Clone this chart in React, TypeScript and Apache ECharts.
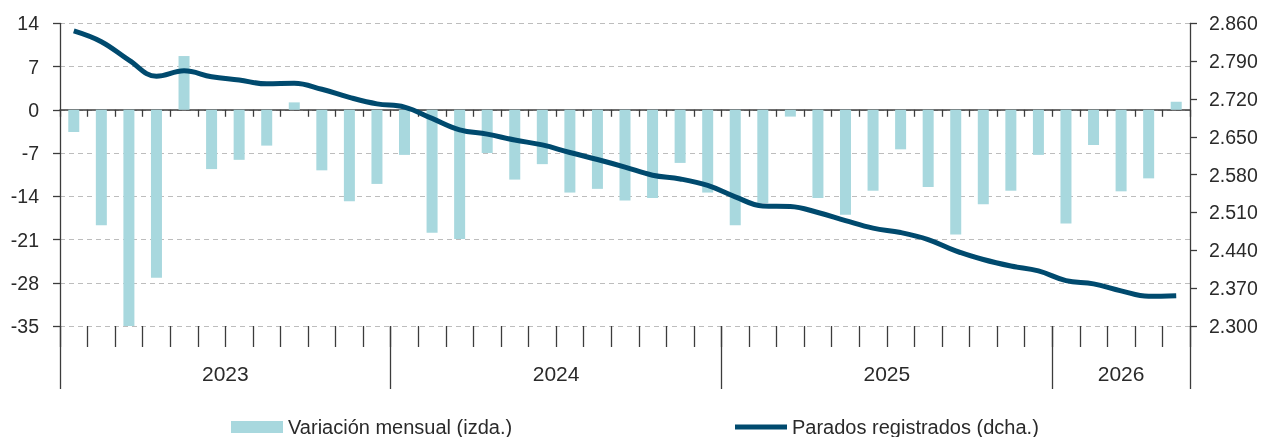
import React, { useEffect, useRef } from "react";
import * as echarts from "echarts";

const months = [
  "ene 2023", "feb 2023", "mar 2023", "abr 2023", "may 2023", "jun 2023",
  "jul 2023", "ago 2023", "sep 2023", "oct 2023", "nov 2023", "dic 2023",
  "ene 2024", "feb 2024", "mar 2024", "abr 2024", "may 2024", "jun 2024",
  "jul 2024", "ago 2024", "sep 2024", "oct 2024", "nov 2024", "dic 2024",
  "ene 2025", "feb 2025", "mar 2025", "abr 2025", "may 2025", "jun 2025",
  "jul 2025", "ago 2025", "sep 2025", "oct 2025", "nov 2025", "dic 2025",
  "ene 2026", "feb 2026", "mar 2026", "abr 2026", "may 2026",
];

const variacionMensual = [
  -3.6, -18.7, -35.0, -27.2, 8.7, -9.6, -8.1, -5.8, 1.2, -9.8, -14.8, -12.0,
  -7.3, -19.9, -20.9, -7.0, -11.3, -8.8, -13.4, -12.8, -14.7, -14.3, -8.6, -13.4,
  -18.7, -15.1, -1.1, -14.3, -17.0, -13.1, -6.4, -12.5, -20.2, -15.3, -13.1, -7.3,
  -18.4, -5.7, -13.2, -11.1, 1.3,
];

const paradosRegistrados = [
  2846, 2826, 2792, 2762, 2772, 2761, 2755, 2748, 2749, 2738, 2723, 2711,
  2705, 2684, 2663, 2655, 2644, 2635, 2621, 2608, 2594, 2579, 2572, 2560,
  2539, 2522, 2521, 2510, 2495, 2481, 2473, 2460, 2439, 2423, 2411, 2402,
  2384, 2378, 2365, 2355, 2356,
];

const yearLabels = ["2023", "2024", "2025", "2026"];
const yearCenters = [6, 18, 30, 38.5];
const yearBounds = [0, 12, 24, 36, 41];

const serieBarras = "Variación mensual (izda.)";
const serieLinea = "Parados registrados (dcha.)";

const FONT = "'Liberation Sans', Arial, Helvetica, sans-serif";
const TEXT = "#2a2a2a";
const AXIS = "#3c3c3c";
const BAR = "#a8d8de";
const LINE = "#004a6e";

function fmtMiles(v: number): string {
  const t = Math.floor(v / 1000);
  const r = Math.round(v - t * 1000);
  return `${t}.${String(r).padStart(3, "0")}`;
}

export default function App() {
  const ref = useRef<HTMLDivElement>(null);

  useEffect(() => {
    if (!ref.current) return;
    const chart = echarts.init(ref.current, null, { renderer: "svg" });
    chart.setOption({
      animation: false,
      textStyle: { fontFamily: FONT },
      grid: { left: 60, right: 75, top: 23.3, bottom: 111, containLabel: false },
      legend: [
        {
          data: [serieBarras],
          left: 231,
          top: 417,
          padding: 0,
          icon: "rect",
          itemWidth: 52,
          itemHeight: 12,
          textStyle: { fontSize: 20, color: TEXT, fontFamily: FONT },
        },
        {
          data: [serieLinea],
          left: 735,
          top: 417,
          padding: 0,
          icon: "rect",
          itemWidth: 52,
          itemHeight: 5,
          textStyle: { fontSize: 20, color: TEXT, fontFamily: FONT },
        },
      ],
      xAxis: [
        {
          type: "category",
          data: months,
          position: "bottom",
          axisLine: { show: true, onZero: true, lineStyle: { color: AXIS, width: 1.5 } },
          axisTick: { show: true, interval: 0, length: 7, lineStyle: { color: AXIS, width: 1.3 } },
          axisLabel: { show: false },
          splitLine: { show: false },
        },
        {
          type: "category",
          data: months,
          position: "bottom",
          axisLine: { show: false, onZero: false },
          axisTick: { show: true, interval: 0, length: 21, lineStyle: { color: AXIS, width: 1.3 } },
          axisLabel: { show: false },
          splitLine: { show: false },
        },
        {
          type: "value",
          min: 0,
          max: months.length,
          position: "bottom",
          axisLine: { show: false, onZero: false },
          splitLine: { show: false },
          axisTick: {
            show: true,
            customValues: yearBounds,
            length: 63,
            lineStyle: { color: AXIS, width: 1.3 },
          },
          axisLabel: {
            show: true,
            customValues: yearCenters,
            formatter: (v: number) => yearLabels[yearCenters.indexOf(v)] ?? "",
            margin: 37,
            fontSize: 21,
            color: TEXT,
            fontFamily: FONT,
          },
        },
      ],
      yAxis: [
        {
          type: "value",
          min: -35,
          max: 14,
          interval: 7,
          position: "left",
          axisLine: { show: true, onZero: false, lineStyle: { color: AXIS, width: 1.3 } },
          axisTick: { show: true, length: 7, lineStyle: { color: AXIS, width: 1.3 } },
          axisLabel: { margin: 21, fontSize: 19.5, color: TEXT, fontFamily: FONT },
          splitLine: { show: true, lineStyle: { type: [5, 4], color: "#bdbdbd", width: 1.2 } },
        },
        {
          type: "value",
          min: 2300,
          max: 2860,
          interval: 70,
          position: "right",
          axisLine: { show: true, onZero: false, lineStyle: { color: AXIS, width: 1.3 } },
          axisTick: { show: true, length: 7, lineStyle: { color: AXIS, width: 1.3 } },
          axisLabel: { margin: 19, fontSize: 19.5, color: TEXT, fontFamily: FONT, formatter: fmtMiles },
          splitLine: { show: false },
        },
      ],
      series: [
        {
          type: "bar",
          name: serieBarras,
          data: variacionMensual,
          xAxisIndex: 0,
          yAxisIndex: 0,
          barWidth: 11,
          itemStyle: { color: BAR },
          z: 2,
        },
        {
          type: "line",
          name: serieLinea,
          data: paradosRegistrados,
          xAxisIndex: 0,
          yAxisIndex: 1,
          smooth: 0.4,
          symbol: "none",
          showSymbol: false,
          lineStyle: { width: 5, color: LINE },
          itemStyle: { color: LINE },
          z: 3,
        },
      ],
    });
    return () => chart.dispose();
  }, []);

  return (
    <div
      ref={ref}
      style={{ position: "fixed", left: 0, top: 0, width: 1265, height: 437 }}
    />
  );
}
